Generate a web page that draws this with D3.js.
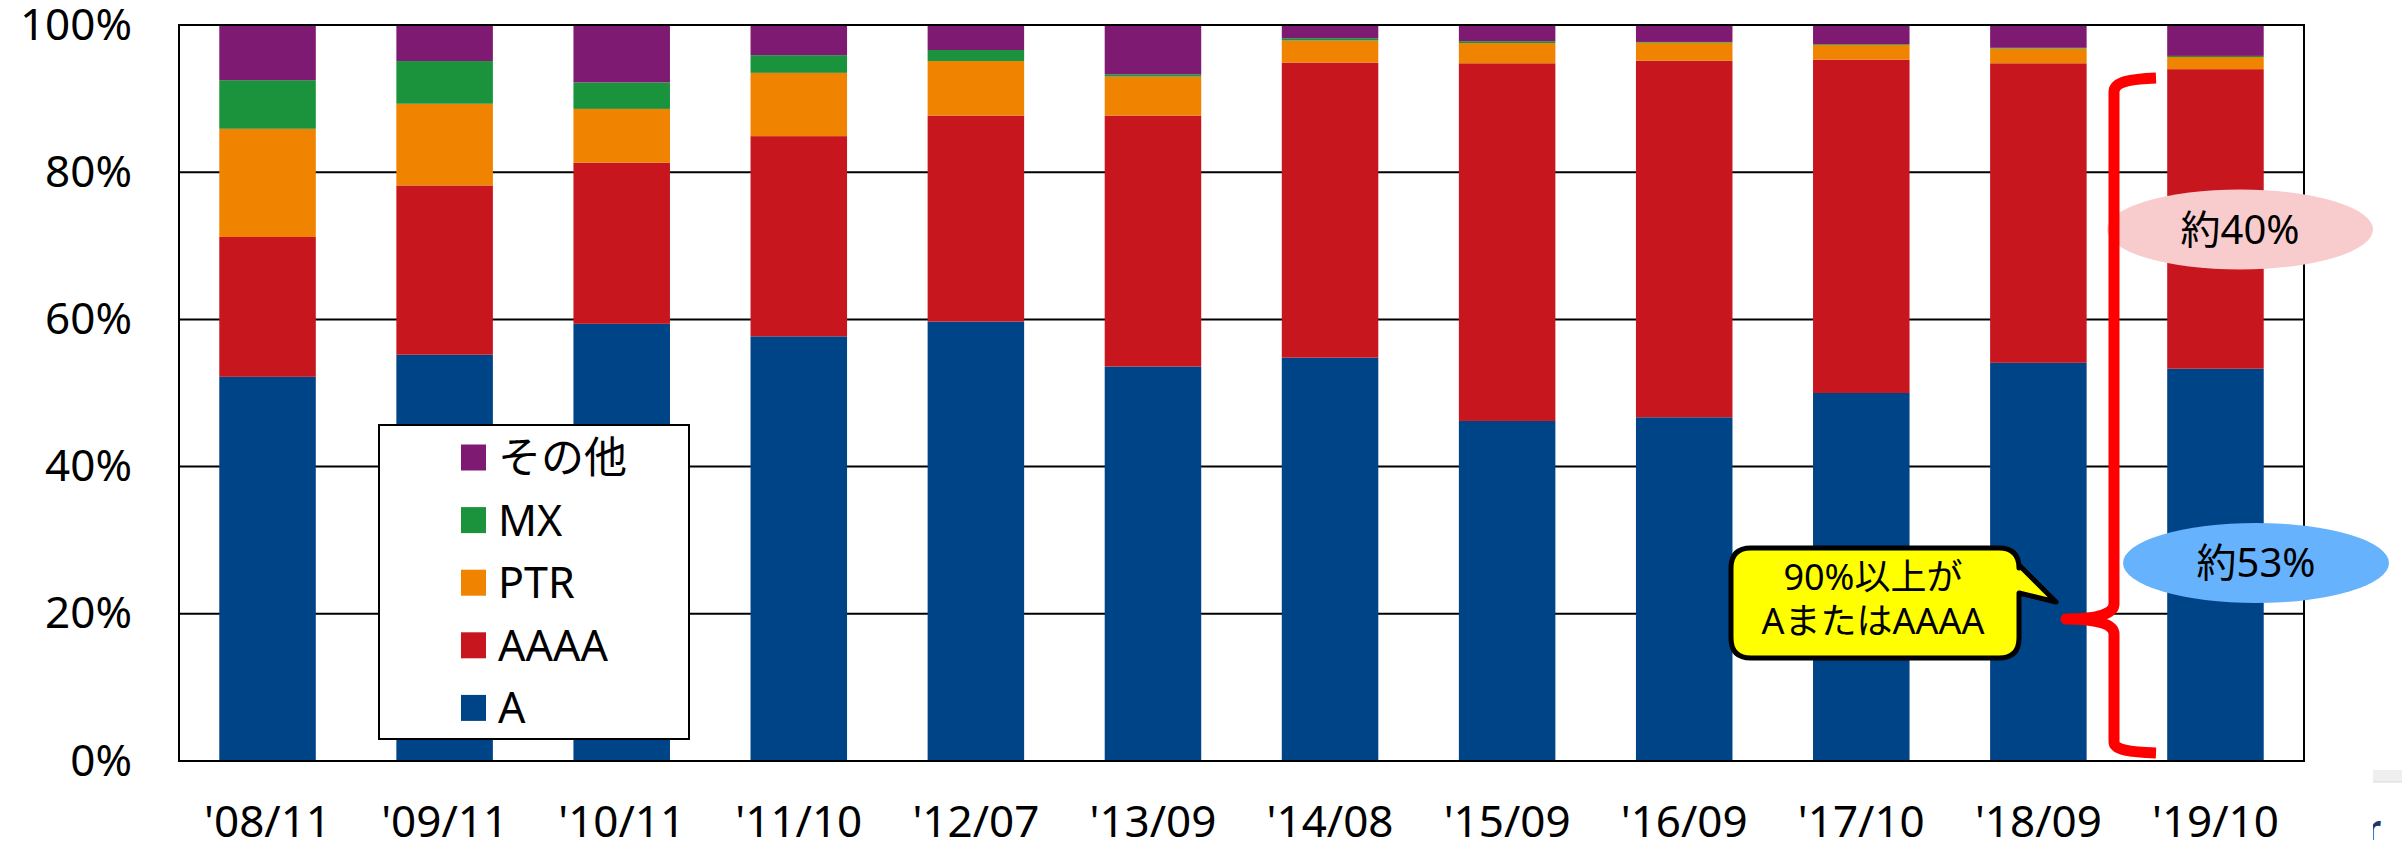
<!DOCTYPE html>
<html>
<head>
<meta charset="utf-8">
<script src="https://cdn.jsdelivr.net/npm/d3@7"></script>
<style>
  html, body { margin: 0; padding: 0; background: #fff; }
  svg { display: block; font-family: 'Noto Sans', 'Noto Sans CJK JP', sans-serif; }
</style>
</head>
<body>
<svg id="chart"></svg>
<script>
// survey dates
const categories = ["'08/11", "'09/11", "'10/11", "'11/10", "'12/07", "'13/09",
  "'14/08", "'15/09", "'16/09", "'17/10", "'18/09", "'19/10"];

// shares in %
const seriesA    = [52.2, 55.2, 59.4, 57.7, 59.7, 53.6, 54.8, 46.2, 46.7, 50.0, 54.1, 53.3];
const seriesAAAA = [19.0, 23.0, 21.9, 27.2, 28.0, 34.1, 40.1, 48.6, 48.45, 45.3, 40.7, 40.7];
const seriesPTR  = [14.7, 11.1, 7.3, 8.6, 7.4, 5.3, 3.0, 2.75, 2.45, 2.0, 2.0, 1.65];
const seriesMX   = [6.6, 5.8, 3.6, 2.4, 1.5, 0.3, 0.3, 0.25, 0.1, 0.1, 0.1, 0.15];
const seriesEtc  = [7.5, 4.9, 7.8, 4.1, 3.4, 6.7, 1.8, 2.2, 2.3, 2.6, 3.1, 4.2];

const keys = ['A', 'AAAA', 'PTR', 'MX', 'その他'];
const colors = ['#004488', '#c8161e', '#f08300', '#1a933c', '#7f1a72'];
const yTicks = [0, 20, 40, 60, 80, 100];

const W = 2402, H = 845;
const margin = {left: 179, right: 98, top: 25, bottom: 84};

const svg = d3.select('#chart').attr('width', W).attr('height', H);

const rows = categories.map((c, i) => ({
  cat: c, 'A': seriesA[i], 'AAAA': seriesAAAA[i], 'PTR': seriesPTR[i], 'MX': seriesMX[i], 'その他': seriesEtc[i]
}));
const stacked = d3.stack().keys(keys)(rows);

const x = d3.scaleBand()
  .domain(categories)
  .range([margin.left, W - margin.right])
  .paddingInner(0.455)
  .paddingOuter(0.2275);

const y = d3.scaleLinear()
  .domain([0, 100])
  .range([H - margin.bottom, margin.top]);

const color = d3.scaleOrdinal(keys, colors);

// gridlines behind the bars
svg.append('g')
  .selectAll('line')
  .data(yTicks.slice(1, -1))
  .join('line')
  .attr('x1', margin.left).attr('x2', W - margin.right)
  .attr('y1', d => y(d)).attr('y2', d => y(d))
  .attr('stroke', '#000').attr('stroke-width', 2);

// stacked bars
svg.append('g')
  .selectAll('g')
  .data(stacked)
  .join('g')
  .attr('fill', d => color(d.key))
  .selectAll('rect')
  .data(d => d)
  .join('rect')
  .attr('x', d => x(d.data.cat))
  .attr('width', x.bandwidth())
  .attr('y', d => y(d[1]))
  .attr('height', d => y(d[0]) - y(d[1]));

// plot frame
svg.append('rect')
  .attr('x', margin.left).attr('y', margin.top)
  .attr('width', W - margin.right - margin.left)
  .attr('height', H - margin.bottom - margin.top)
  .attr('fill', 'none').attr('stroke', '#000').attr('stroke-width', 2);

// axes (labels only)
const yAxis = svg.append('g')
  .attr('transform', `translate(${margin.left},0)`)
  .call(d3.axisLeft(y).tickValues(yTicks).tickFormat(d => d + '%').tickSize(0).tickPadding(47));
const xAxis = svg.append('g')
  .attr('transform', `translate(0,${H - margin.bottom})`)
  .call(d3.axisBottom(x).tickSize(0).tickPadding(45));
[yAxis, xAxis].forEach(g => {
  g.select('.domain').remove();
  g.selectAll('text')
    .attr('font-family', "'Noto Sans', 'Noto Sans CJK JP', sans-serif")
    .attr('font-size', 44)
    .attr('fill', '#000');
});

// legend
const legend = svg.append('g');
legend.append('rect')
  .attr('x', 379).attr('y', 425).attr('width', 310).attr('height', 314)
  .attr('fill', '#fff').attr('stroke', '#000').attr('stroke-width', 2);
const legendItems = legend.selectAll('g.item')
  .data(keys.slice().reverse())
  .join('g')
  .attr('class', 'item')
  .attr('transform', (d, i) => `translate(461,${457.5 + i * 62.6})`);
legendItems.append('rect')
  .attr('x', 0).attr('y', -13).attr('width', 25).attr('height', 26)
  .attr('fill', d => color(d));
legendItems.append('text')
  .attr('x', 37).attr('dy', '0.36em')
  .attr('font-size', 43)
  .text(d => d);

// ellipse labels
const bubbles = [
  {cx: 2240, cy: 229.5, rx: 133, ry: 40, fill: '#f8cbcc', label: '約40%'},
  {cx: 2256, cy: 563, rx: 133, ry: 40, fill: '#66b2fc', label: '約53%'}
];
const bubbleG = svg.append('g').selectAll('g').data(bubbles).join('g');
bubbleG.append('ellipse')
  .attr('cx', d => d.cx).attr('cy', d => d.cy)
  .attr('rx', d => d.rx).attr('ry', d => d.ry)
  .attr('fill', d => d.fill);
bubbleG.append('text')
  .attr('x', d => d.cx).attr('y', d => d.cy).attr('dy', '0.36em')
  .attr('text-anchor', 'middle')
  .attr('font-size', 40)
  .text(d => d.label);

// red brace
svg.append('path')
  .attr('d', 'M2156,78 C2130,79 2114,82 2114,92 L2114,604 C2114,613 2100,619 2066,619 ' +
             'C2100,619 2114,625 2114,634 L2114,742 C2114,750 2130,752 2156,753')
  .attr('fill', 'none').attr('stroke', '#ff0000').attr('stroke-width', 11)
  .attr('stroke-linejoin', 'round');

// yellow callout
const cb = {x0: 1731, y0: 548, x1: 2019, y1: 658, r: 20};
svg.append('path')
  .attr('d', `M${cb.x0 + cb.r},${cb.y0} H${cb.x1 - cb.r} Q${cb.x1},${cb.y0} ${cb.x1},${cb.y0 + cb.r} ` +
             `V565 L2056,602 L${cb.x1},593 V${cb.y1 - cb.r} Q${cb.x1},${cb.y1} ${cb.x1 - cb.r},${cb.y1} ` +
             `H${cb.x0 + cb.r} Q${cb.x0},${cb.y1} ${cb.x0},${cb.y1 - cb.r} V${cb.y0 + cb.r} Q${cb.x0},${cb.y0} ${cb.x0 + cb.r},${cb.y0} Z`)
  .attr('fill', '#ffff00').attr('stroke', '#000').attr('stroke-width', 5)
  .attr('stroke-linejoin', 'round');
svg.append('text')
  .attr('text-anchor', 'middle')
  .attr('font-size', 36)
  .selectAll('tspan')
  .data(['90%以上が', 'AまたはAAAA'])
  .join('tspan')
  .attr('x', 1873)
  .attr('y', (d, i) => 590 + i * 44)
  .text(d => d);

// cropped screen edge at the bottom right
svg.append('rect').attr('x', 2373).attr('y', 770).attr('width', 29).attr('height', 12).attr('fill', '#efefef');
svg.append('line').attr('x1', 2373).attr('x2', 2402).attr('y1', 782).attr('y2', 782).attr('stroke', '#d8d8d8');
svg.append('clipPath').attr('id', 'edgeClip')
  .append('rect').attr('x', 2373).attr('y', 790).attr('width', 29).attr('height', 55);
svg.append('text')
  .attr('x', 2366).attr('y', 840)
  .attr('clip-path', 'url(#edgeClip)')
  .attr('font-size', 34).attr('font-weight', 'bold').attr('fill', '#1f3864')
  .text('r');
</script>
</body>
</html>
